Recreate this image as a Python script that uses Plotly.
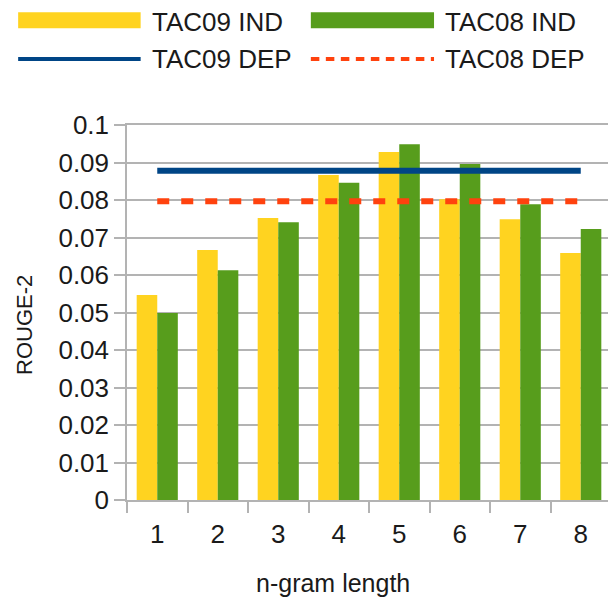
import plotly.graph_objects as go

# ---- data ----
categories = ["1", "2", "3", "4", "5", "6", "7", "8"]
tac09_ind = [0.0547, 0.0667, 0.0752, 0.0867, 0.0928, 0.0802, 0.0749, 0.0659]
tac08_ind = [0.0499, 0.0613, 0.0741, 0.0846, 0.0949, 0.0896, 0.0789, 0.0723]
tac09_dep = [0.0878, 0.0878, 0.0878, 0.0878, 0.0878, 0.0878, 0.0878, 0.0878]
tac08_dep = [0.0797, 0.0797, 0.0797, 0.0797, 0.0797, 0.0797, 0.0797, 0.0797]
y_tickvals = [0, 0.01, 0.02, 0.03, 0.04, 0.05, 0.06, 0.07, 0.08, 0.09, 0.1]
y_ticktext = ["0", "0.01", "0.02", "0.03", "0.04", "0.05", "0.06", "0.07", "0.08", "0.09", "0.1"]
series_names = ["TAC09 IND", "TAC08 IND", "TAC09 DEP", "TAC08 DEP"]

YELLOW = "#FFD320"
GREEN = "#579D1C"
BLUE = "#004586"
RED = "#FF420E"
GRID = "#b3b3b3"
TXT = "#1a1a1a"
FONT = "Liberation Sans, Arial, sans-serif"

# window is 616x599; the page body adds an 8px margin, so the figure is 8px smaller
OFF = 8
W, H = 616, 599
L, R, T, B = 127, 3, 125, 99          # plot area in window pixels
PW, PH = W - L - R, H - T - B


def px_x(px):
    return (px - L) / PW


def px_y(py):
    return (H - B - py) / PH


fig = go.Figure()
fig.add_trace(go.Bar(x=categories, y=tac09_ind, name=series_names[0],
                     marker=dict(color=YELLOW, line=dict(width=0)), showlegend=False))
fig.add_trace(go.Bar(x=categories, y=tac08_ind, name=series_names[1],
                     marker=dict(color=GREEN, line=dict(width=0)), showlegend=False))
fig.add_trace(go.Scatter(x=categories, y=tac09_dep, name=series_names[2], mode="lines",
                         line=dict(color=BLUE, width=6), showlegend=False))
fig.add_trace(go.Scatter(x=categories, y=tac08_dep, name=series_names[3], mode="lines",
                         line=dict(color=RED, width=6, dash="12px,12px"), showlegend=False))

# ---- manual legend (wide swatches like the original) ----
shapes = []
annotations = []
cols = [(17.7, 140.7, 150), (311.6, 435.3, 444)]
row_y = [20.3, 59.0]
text_y = [22.5, 58.5]
for (x0, x1, tx), color, name in zip(cols, [YELLOW, GREEN], series_names[:2]):
    shapes.append(dict(type="rect", xref="paper", yref="paper",
                       x0=px_x(x0), x1=px_x(x1), y0=px_y(row_y[0] - 8), y1=px_y(row_y[0] + 8),
                       fillcolor=color, line=dict(width=0), layer="above"))
    annotations.append(dict(xref="paper", yref="paper", x=px_x(tx), y=px_y(text_y[0]),
                            xanchor="left", yanchor="middle", showarrow=False, text=name,
                            font=dict(size=26, color=TXT, family=FONT)))
for (x0, x1, tx), color, dash, name in zip(cols, [BLUE, RED], ["solid", "8.5px,6.5px"], series_names[2:]):
    shapes.append(dict(type="line", xref="paper", yref="paper",
                       x0=px_x(x0), x1=px_x(x1), y0=px_y(row_y[1]), y1=px_y(row_y[1]),
                       line=dict(color=color, width=4, dash=dash), layer="above"))
    annotations.append(dict(xref="paper", yref="paper", x=px_x(tx), y=px_y(text_y[1]),
                            xanchor="left", yanchor="middle", showarrow=False, text=name,
                            font=dict(size=26, color=TXT, family=FONT)))

# axis titles as annotations (positioned like the original)
annotations.append(dict(xref="paper", yref="paper", x=px_x(334), y=px_y(583),
                        xanchor="center", yanchor="middle", showarrow=False, text="n-gram length",
                        font=dict(size=25, color=TXT, family=FONT)))
annotations.append(dict(xref="paper", yref="paper", x=px_x(24), y=px_y(324.5),
                        xanchor="center", yanchor="middle", showarrow=False, text="ROUGE-2",
                        textangle=-90, font=dict(size=22, color=TXT, family=FONT)))

fig.update_layout(
    width=W - OFF, height=H - OFF,
    margin=dict(l=L - OFF, r=R, t=T - OFF, b=B, pad=0),
    paper_bgcolor="white", plot_bgcolor="white",
    barmode="group", bargap=0.32, bargroupgap=0,
    font=dict(family=FONT, color=TXT, size=26),
    shapes=shapes, annotations=annotations,
    showlegend=False,
)
fig.update_xaxes(
    type="category", range=[-0.5, 7.5],
    showgrid=False, showline=True, linecolor=GRID, linewidth=1.5, mirror=True,
    ticks="outside", ticklen=11, tickwidth=1.5, tickcolor=GRID, tickson="boundaries",
    ticklabelstandoff=10,
    tickfont=dict(size=26, color=TXT, family=FONT),
)
fig.update_yaxes(
    range=[0, 0.1], tickvals=y_tickvals, ticktext=y_ticktext,
    showgrid=True, gridcolor=GRID, gridwidth=1.5,
    showline=True, linecolor=GRID, linewidth=1.5, mirror=True,
    ticks="outside", ticklen=11, tickwidth=1.5, tickcolor=GRID,
    tickfont=dict(size=26, color=TXT, family=FONT), zeroline=False,
)

fig.write_html("out.html")
